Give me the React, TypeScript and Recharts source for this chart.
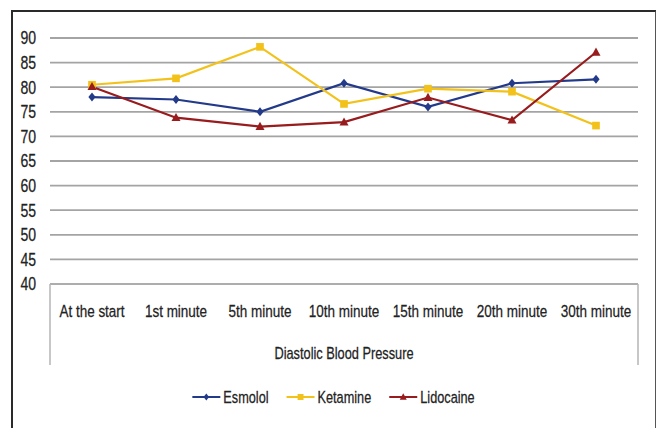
import React from "react";
import { LineChart, Line, XAxis, YAxis, CartesianGrid, Legend } from "recharts";

const categories = ["At the start", "1st minute", "5th minute", "10th minute", "15th minute", "20th minute", "30th minute"];
const esmolol = [78, 77.5, 75, 80.8, 76, 80.8, 81.6];
const ketamine = [80.5, 81.8, 88.2, 76.6, 79.7, 79.1, 72.2];
const lidocaine = [80.1, 73.8, 72, 72.9, 77.9, 73.3, 87.1];
const yTicks = [40, 45, 50, 55, 60, 65, 70, 75, 80, 85, 90];
const seriesNames = ["Esmolol", "Ketamine", "Lidocaine"] as const;
const axisTitle = "Diastolic Blood Pressure";

const data = categories.map((c, i) => ({
  name: c,
  Esmolol: esmolol[i],
  Ketamine: ketamine[i],
  Lidocaine: lidocaine[i],
}));

const FONT = "'Liberation Sans', Arial, sans-serif";
const SQUEEZE = 0.78;
const TEXT_COLOR = "#222222";
const COLORS: Record<string, string> = { Esmolol: "#233a8a", Ketamine: "#f2c21b", Lidocaine: "#981b1e" };
const SHAPES: Record<string, string> = { Esmolol: "diamond", Ketamine: "square", Lidocaine: "triangle" };

// approximate Arial advance widths (em) to lay out the legend
const W: Record<string, number> = {
  E: 0.667, K: 0.667, L: 0.556, s: 0.5, m: 0.833, o: 0.556, l: 0.222, e: 0.556, t: 0.278,
  a: 0.556, i: 0.222, n: 0.556, d: 0.556, c: 0.5,
};
const textWidth = (s: string, size: number) =>
  s.split("").reduce((acc, ch) => acc + (W[ch] ?? 0.55), 0) * size * SQUEEZE;

const NarrowText = ({ x, y, anchor, size, children, dy }: any) => (
  <g transform={`translate(${x},${y}) scale(${SQUEEZE},1)`}>
    <text
      x={0}
      y={0}
      dy={dy}
      textAnchor={anchor}
      fontFamily={FONT}
      fontSize={size}
      fill={TEXT_COLOR}
      stroke={TEXT_COLOR}
      strokeWidth={0.25}
    >
      {children}
    </text>
  </g>
);

const XTick = (props: any) => {
  const { x, y, payload } = props;
  return (
    <NarrowText x={x} y={y} anchor="middle" size={17.3} dy="0.71em">
      {payload.value}
    </NarrowText>
  );
};

const YTick = (props: any) => {
  const { x, y, payload } = props;
  return (
    <NarrowText x={x} y={y} anchor="end" size={18} dy="0.355em">
      {payload.value}
    </NarrowText>
  );
};

function shapePath(shape: string, cx: number, cy: number, s: number) {
  if (shape === "diamond") return `M${cx},${cy - s}L${cx + s * 0.8},${cy}L${cx},${cy + s}L${cx - s * 0.8},${cy}Z`;
  if (shape === "square") return `M${cx - s * 0.85},${cy - s * 0.85}h${s * 1.7}v${s * 1.7}h${-s * 1.7}Z`;
  return `M${cx},${cy - s * 1.05}L${cx + s},${cy + s * 0.75}L${cx - s},${cy + s * 0.75}Z`;
}

const makeDot = (name: string) => (props: any) => {
  const { cx, cy, index } = props;
  if (cx == null || cy == null) return <g key={`${name}-${index}`} />;
  return <path key={`${name}-${index}`} d={shapePath(SHAPES[name], cx, cy, 4.5)} fill={COLORS[name]} />;
};

const AxisBox = (props: any) => {
  const vb = props.viewBox || {};
  const { x, y, width, height } = vb;
  return (
    <g>
      <line x1={x} y1={y} x2={x} y2={y + height} stroke="#b4b4b4" strokeWidth={1.5} />
      <line x1={x + width} y1={y} x2={x + width} y2={y + height} stroke="#b4b4b4" strokeWidth={1.5} />
      <NarrowText x={x + width / 2} y={y + 75} anchor="middle" size={16.4}>
        {axisTitle}
      </NarrowText>
    </g>
  );
};

const LegendContent = () => {
  const size = 16.3;
  const icon = 28;
  const gapIcon = 3;
  const gapItem = 18;
  const widths = seriesNames.map((n) => icon + gapIcon + textWidth(n, size));
  const total = widths.reduce((a, b) => a + b, 0) + gapItem * (seriesNames.length - 1);
  const svgW = 643;
  let cur = (svgW - total) / 2;
  return (
    <svg width={svgW} height={24} style={{ display: "block" }}>
      {seriesNames.map((n, i) => {
        const x0 = cur;
        cur += widths[i] + gapItem;
        return (
          <g key={n}>
            <line x1={x0} y1={11} x2={x0 + icon} y2={11} stroke={COLORS[n]} strokeWidth={2} />
            <path d={shapePath(SHAPES[n], x0 + icon / 2, 11, 3.5)} fill={COLORS[n]} />
            <NarrowText x={x0 + icon + gapIcon} y={11} anchor="start" size={size} dy="0.355em">
              {n}
            </NarrowText>
          </g>
        );
      })}
    </svg>
  );
};

export default function App() {
  return (
    <div style={{ position: "absolute", left: 0, top: 0, width: 656, height: 428, background: "#fff", overflow: "hidden" }}>
      <div
        style={{
          position: "absolute",
          left: 11,
          top: 10,
          width: 642,
          height: 430,
          borderLeft: "2px solid #2a2a2a",
          borderTop: "2px solid #2a2a2a",
          borderRight: "2px solid #555",
        }}
      />
      <div style={{ position: "absolute", left: 0, top: 0 }}>
        <LineChart width={656} height={428} data={data} margin={{ top: 38, right: 18, left: 10, bottom: 63 }}>
          <CartesianGrid vertical={false} stroke="#a4a4a4" strokeWidth={1.8} />
          <XAxis
            dataKey="name"
            height={81}
            padding={{ left: 42, right: 42 }}
            tickLine={false}
            tickSize={0}
            tickMargin={21}
            axisLine={{ stroke: "#b0b0b0", strokeWidth: 1.5 }}
            tick={<XTick />}
            interval={0}
            label={<AxisBox />}
          />
          <YAxis
            width={40}
            domain={[40, 90]}
            ticks={yTicks}
            interval={0}
            axisLine={false}
            tickLine={false}
            tickSize={0}
            tickMargin={14}
            tick={<YTick />}
          />
          <Legend verticalAlign="middle" layout="horizontal" content={<LegendContent />} wrapperStyle={{ top: 386, left: 12, width: 643 }} />
          {seriesNames.map((n) => (
            <Line
              key={n}
              type="linear"
              dataKey={n}
              stroke={COLORS[n]}
              strokeWidth={2.2}
              dot={makeDot(n)}
              activeDot={false}
              isAnimationActive={false}
            />
          ))}
        </LineChart>
      </div>
    </div>
  );
}
